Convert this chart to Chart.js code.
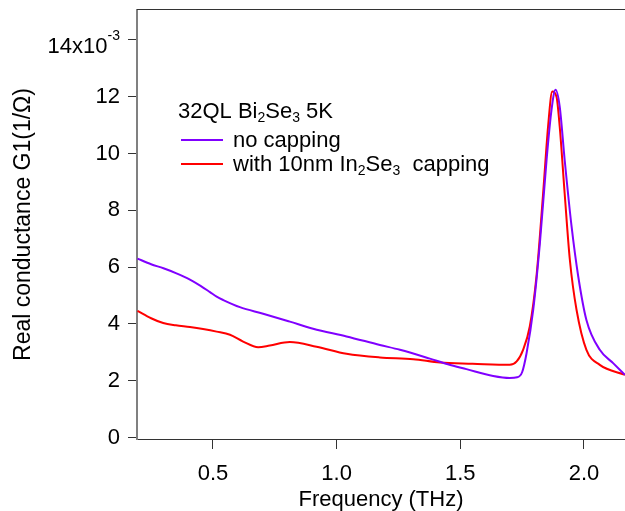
<!DOCTYPE html>
<html>
<head>
<meta charset="utf-8">
<script src="https://cdn.jsdelivr.net/npm/chart.js@4.4.1/dist/chart.umd.min.js"></script>
<style>
  html, body { margin: 0; padding: 0; background: #fff; }
  #wrap { width: 625px; height: 511px; }
</style>
</head>
<body>
<div id="wrap"><canvas id="g1chart" width="625" height="511"></canvas></div>
<script>
// real conductance G1, in units of 10^-3 (1/Ohm)
var noCapFreq = [0.195, 0.25, 0.30, 0.35, 0.407, 0.45, 0.488, 0.515, 0.542, 0.609, 0.703, 0.811, 0.905, 1.04, 1.175, 1.256, 1.377, 1.45, 1.525, 1.633, 1.70, 1.73, 1.75, 1.768, 1.795, 1.822, 1.849, 1.869, 1.885, 1.902, 1.922, 1.950, 1.977, 2.010, 2.064, 2.118, 2.166];
var noCapG    = [6.30, 6.10, 5.96, 5.79, 5.56, 5.34, 5.12, 4.96, 4.84, 4.59, 4.36, 4.08, 3.83, 3.56, 3.26, 3.09, 2.78, 2.58, 2.41, 2.17, 2.10, 2.12, 2.30, 2.97, 4.50, 6.85, 9.78, 11.54, 12.24, 11.65, 9.78, 7.43, 5.67, 4.14, 3.09, 2.62, 2.21];

var cappedFreq = [0.195, 0.25, 0.299, 0.35, 0.407, 0.46, 0.515, 0.569, 0.622, 0.683, 0.730, 0.811, 0.919, 1.04, 1.175, 1.31, 1.418, 1.55, 1.70, 1.728, 1.754, 1.781, 1.808, 1.835, 1.855, 1.872, 1.889, 1.902, 1.922, 1.943, 1.970, 2.010, 2.064, 2.166];
var cappedG    = [4.46, 4.20, 4.03, 3.95, 3.89, 3.82, 3.73, 3.62, 3.38, 3.18, 3.24, 3.36, 3.20, 2.95, 2.82, 2.76, 2.64, 2.60, 2.56, 2.68, 3.09, 3.91, 5.67, 8.60, 10.95, 12.18, 12.00, 10.95, 8.60, 6.26, 4.50, 3.09, 2.56, 2.21];

var xTicks = [0.5, 1.0, 1.5, 2.0];
var yTicks = [0, 2, 4, 6, 8, 10, 12, 14];

var seriesNames = ['no capping', 'with 10nm In2Se3  capping'];
var seriesColors = ['#8000ff', '#ff0000'];

var FONT = 'Arial, "Liberation Sans", Helvetica, sans-serif';

function toPoints(xs, ys) {
  return xs.map(function (x, i) { return { x: x, y: ys[i] }; });
}

// draws a run of text pieces, some of them sub- or superscripted
function drawRich(ctx, x, y, parts) {
  parts.forEach(function (p) {
    var sub = p[1] === 'sub';
    var sup = p[1] === 'sup';
    ctx.font = ((sub || sup) ? '14px ' : '22px ') + FONT;
    var dy = sub ? 4 : (sup ? -13 : 0);
    ctx.fillText(p[0], x, y + dy);
    x += ctx.measureText(p[0]).width;
  });
  return x;
}

var annotations = {
  id: 'annotations',
  afterDraw: function (chart) {
    var ctx = chart.ctx;
    var area = chart.chartArea;
    var yScale = chart.scales.y;
    ctx.save();

    // top frame line
    ctx.strokeStyle = '#333';
    ctx.lineWidth = 1;
    ctx.beginPath();
    ctx.moveTo(area.left, area.top - 0.5);
    ctx.lineTo(area.right, area.top - 0.5);
    ctx.stroke();

    // exponent label on the top tick
    ctx.fillStyle = '#000';
    ctx.textAlign = 'left';
    ctx.textBaseline = 'alphabetic';
    var ty = yScale.getPixelForValue(14) + 13;
    ctx.font = '14px ' + FONT;
    var supW = ctx.measureText('-3').width;
    ctx.font = '22px ' + FONT;
    var mainW = ctx.measureText('14x10').width;
    var rightX = 120;
    drawRich(ctx, rightX - supW - mainW, ty, [['14x10'], ['-3', 'sup']]);

    // legend block
    drawRich(ctx, 178, 118, [['32QL Bi'], ['2', 'sub'], ['Se'], ['3', 'sub'], [' 5K']]);
    var rows = [140, 164];
    ctx.lineWidth = 2;
    rows.forEach(function (ry, i) {
      ctx.strokeStyle = seriesColors[i];
      ctx.beginPath();
      ctx.moveTo(181, ry);
      ctx.lineTo(223, ry);
      ctx.stroke();
    });
    drawRich(ctx, 233, 147, [['no capping']]);
    drawRich(ctx, 233, 171, [['with 10nm In'], ['2', 'sub'], ['Se'], ['3', 'sub'], ['  capping']]);
    ctx.restore();
  }
};

new Chart(document.getElementById('g1chart'), {
  type: 'line',
  data: {
    datasets: [{
      label: seriesNames[0],
      data: toPoints(noCapFreq, noCapG),
      borderColor: seriesColors[0],
      borderWidth: 2,
      pointRadius: 0,
      cubicInterpolationMode: 'monotone',
      fill: false
    }, {
      label: seriesNames[1],
      data: toPoints(cappedFreq, cappedG),
      borderColor: seriesColors[1],
      borderWidth: 2,
      pointRadius: 0,
      cubicInterpolationMode: 'monotone',
      fill: false
    }]
  },
  options: {
    responsive: false,
    animation: false,
    devicePixelRatio: 1,
    layout: { padding: 0 },
    plugins: {
      legend: { display: false },
      tooltip: { enabled: false }
    },
    scales: {
      x: {
        type: 'linear',
        min: 0.193,
        max: 2.166,
        afterBuildTicks: function (s) { s.ticks = xTicks.map(function (v) { return { value: v }; }); },
        afterFit: function (s) {
          s.height = 72;
          s.paddingLeft = 0;
          s.paddingRight = 0;
        },
        grid: { drawOnChartArea: false, tickLength: 10, color: '#333' },
        border: { color: '#333', width: 1 },
        ticks: {
          color: '#000',
          padding: 12,
          maxRotation: 0,
          font: { family: FONT, size: 22 },
          callback: function (v) { return v.toFixed(1); }
        },
        title: {
          display: true,
          text: 'Frequency (THz)',
          color: '#000',
          font: { family: FONT, size: 22 },
          padding: { top: 0, bottom: -2 }
        }
      },
      y: {
        min: -0.05,
        max: 15.05,
        afterBuildTicks: function (s) { s.ticks = yTicks.map(function (v) { return { value: v }; }); },
        afterFit: function (s) {
          s.width = 137;
          s.paddingTop = 10;
          s.paddingBottom = 0;
        },
        grid: { drawOnChartArea: false, tickLength: 9, color: '#333' },
        border: { color: '#808080', width: 2 },
        ticks: {
          color: '#000',
          padding: 8,
          font: { family: FONT, size: 22 },
          callback: function (v) { return v === 14 ? '' : String(v); }
        },
        title: {
          display: true,
          text: 'Real conductance G1(1/\u03A9)',
          color: '#000',
          font: { family: FONT, size: 23 },
          padding: { top: 10, bottom: 0 }
        }
      }
    }
  },
  plugins: [annotations]
});
</script>
</body>
</html>
